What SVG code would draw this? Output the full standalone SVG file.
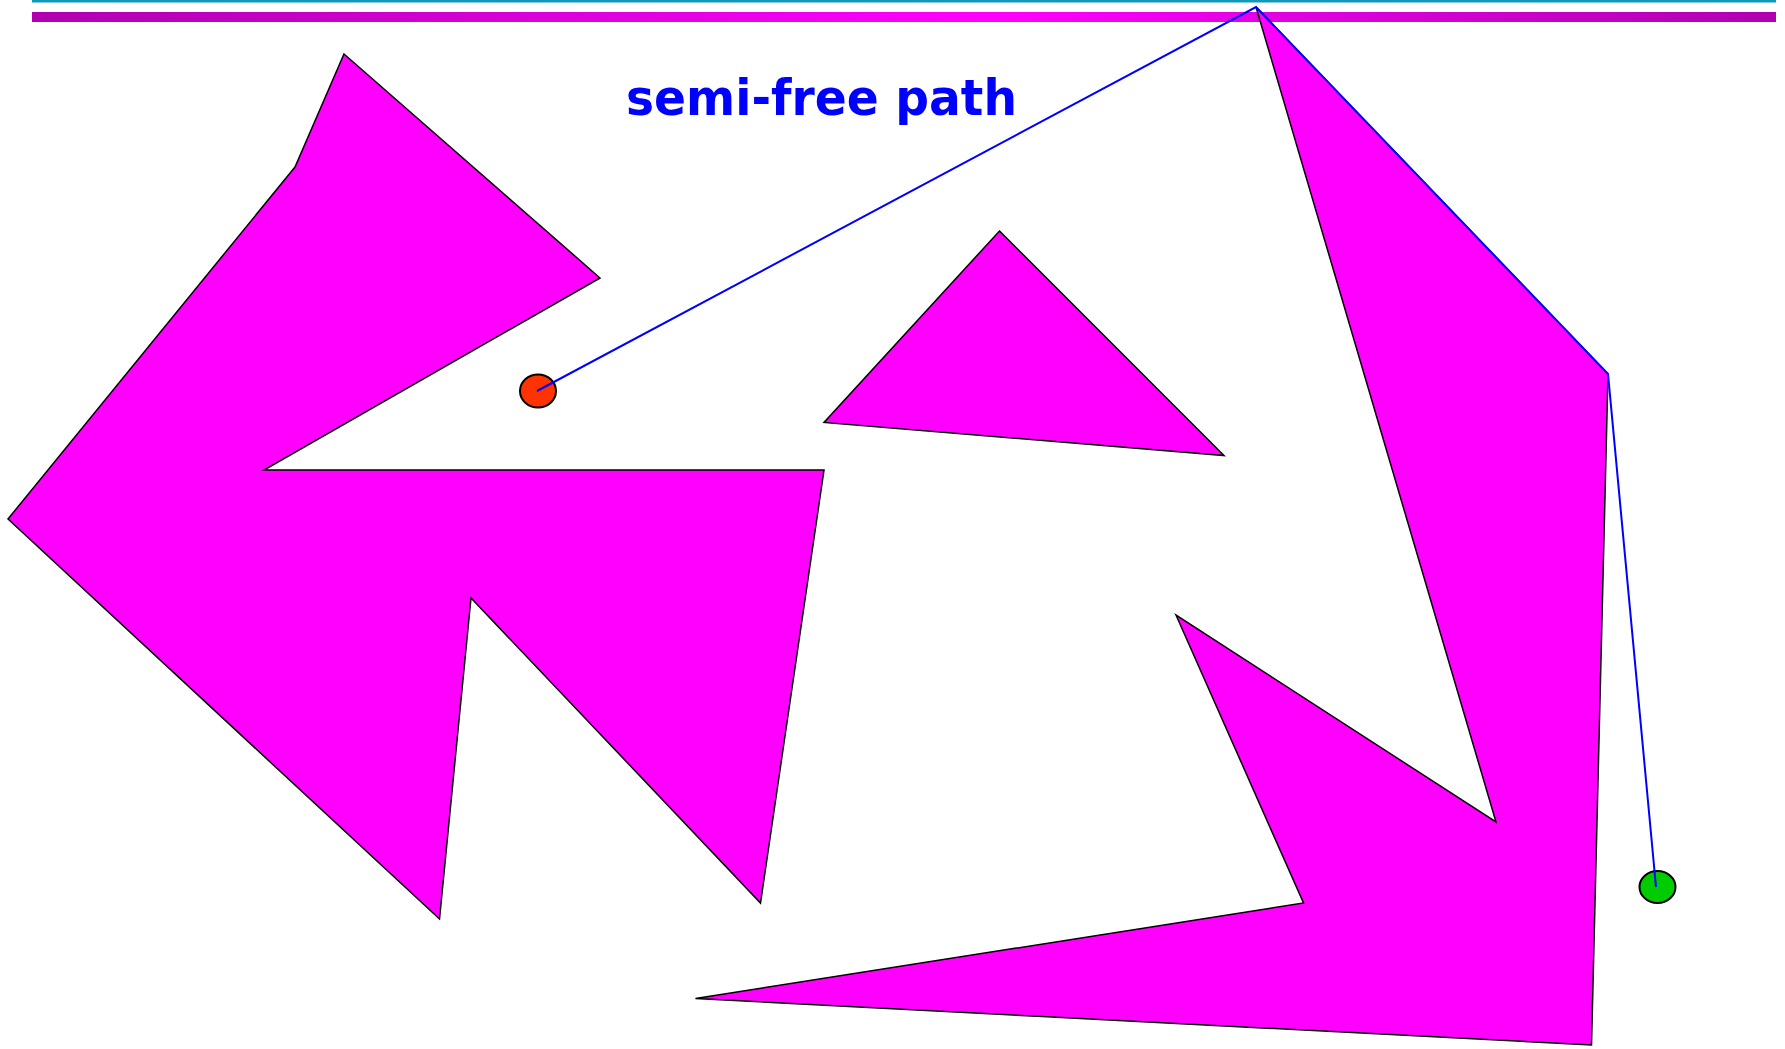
<svg xmlns="http://www.w3.org/2000/svg" width="1785" height="1049" viewBox="0 0 1785 1049">
<defs>
<linearGradient id="bar" x1="0" y1="0" x2="1" y2="0">
<stop offset="0" stop-color="#B000B0"/>
<stop offset="0.55" stop-color="#FF00FF"/>
<stop offset="1" stop-color="#B000B0"/>
</linearGradient>
<style>
.obs{fill:#FF00FF;stroke:#000;stroke-width:1.5;stroke-linejoin:miter}
.path{fill:none;stroke:#0000FF;stroke-width:2}
.title{font-family:"DejaVu Sans",sans-serif;font-weight:bold;font-size:50px;fill:#0000FF}
</style>
</defs>
<rect width="1785" height="1049" fill="#fff"/>
<rect x="32" y="0" width="1744" height="2.5" fill="#1199BB"/>
<rect x="32" y="12" width="1744" height="10" fill="url(#bar)"/>
<text class="title" x="626" y="115" textLength="391" lengthAdjust="spacingAndGlyphs">semi-free path</text>
<g id="obstacle-left">
<polygon class="obs" points="344,54 600,278 264,470 824,470 760.5,903 471,598 439.5,919 8,519 295,167"/>
</g>
<g id="obstacle-triangle">
<polygon class="obs" points="999.5,231 1224,455.5 824,422.5"/>
</g>
<g id="obstacle-right">
<polygon class="obs" points="1256,7 1608,374 1591.5,1045 695.5,998.5 1303.5,903 1176,615 1496,822"/>
</g>
<g id="start">
<ellipse cx="538" cy="391" rx="18" ry="16.5" fill="#FF3300" stroke="#000" stroke-width="2"/>
</g>
<g id="goal">
<ellipse cx="1657.5" cy="887" rx="18" ry="16" fill="#00CC00" stroke="#000" stroke-width="2"/>
</g>
<g id="connectors">
<polyline class="path" points="537,391 1256,7 1608,374 1656,887"/>
</g>
</svg>
